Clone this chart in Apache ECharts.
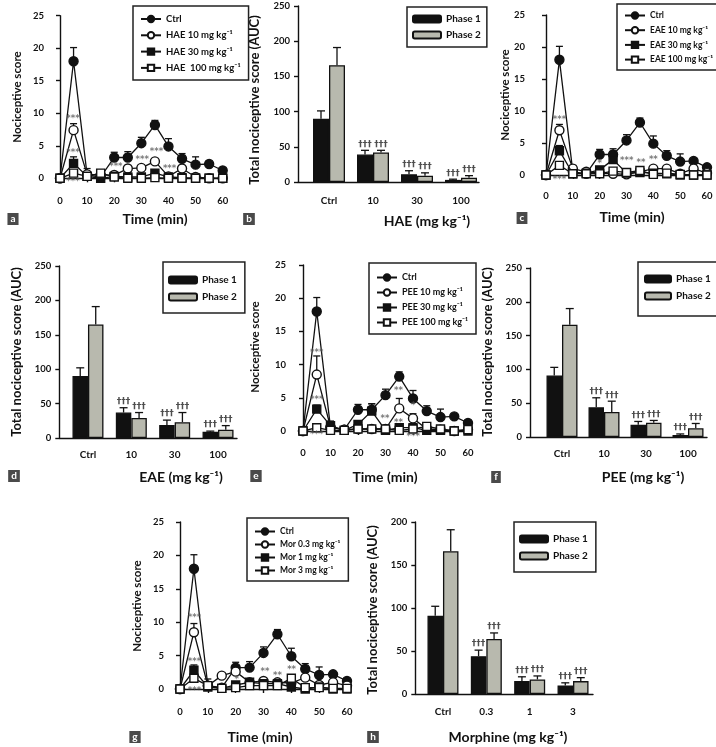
<!DOCTYPE html>
<html><head><meta charset="utf-8">
<script src="https://cdn.jsdelivr.net/npm/echarts@6/dist/echarts.min.js"></script>
<style>html,body{margin:0;padding:0;background:#fff}#c{width:716px;height:747px}</style>
</head><body><div id="c"></div>
<script>
// ---------- DATA ----------
const times = [0,5,10,15,20,25,30,35,40,45,50,55,60];
const ctrlScore = [0,18,0.5,0.2,3.2,3.2,5.4,8.2,4.9,3.0,2.1,2.2,1.2];
const ctrlErr   = [0,2.1,1.0,0,0.8,0.9,0.9,0.7,1.2,0.8,1.2,0.2,0.3];

const hae10  = [0,7.4,0.6,0.5,0.5,1.5,1.6,2.6,0.3,1.5,0.2,0,0];
const hae10Err = [0,1.0,0,0,0,0,0,0,0,0,0,0,0];
const hae30  = [0,2.3,0.3,0,0.3,0.2,0.2,0.8,0.2,0.1,0,0,0];
const hae30Err = [0,1.0,0,0,0,0,0,0,0,0,0,0,0];
const hae100 = [0,0.8,0.3,0.8,0.2,0,0,0.1,0,0,0,0,0];

const eae10  = [0,7.0,1.0,0.5,0.3,0.2,0.1,0.5,1.0,1.0,0.2,1.0,0.3];
const eae10Err = [0,0.9,0,0,0,0,0,0,0,0,0,0,0];
const eae30  = [0,3.8,0.2,0.3,0.8,2.4,0.3,0.4,0.3,0.2,0,0,0];
const eae30Err = [0,0.8,0,0,0,1.0,0,0,0,0,0,0,0];
const eae100 = [0,1.5,0.2,0.2,0.2,0.6,0.4,0.7,0.1,0.3,0.1,0,0];

const pee10  = [0,8.5,0.6,0.2,0.3,0.3,0.3,3.4,1.9,0.3,0.2,0,0.2];
const pee10Err = [0,2.8,0,0,0,0,0,1.5,0.7,0,0,0,0];
const pee30  = [0,3.3,0.8,0.1,1.0,3.0,0.1,0.5,0.5,0.1,0.1,0,0];
const pee30Err = [0,0.6,0,0,0,1.1,0,0,0,0,0,0,0];
const pee100 = [0,0.5,0.1,0.1,0.3,0.3,0.3,0.1,0.3,0.7,0.3,0,0.2];

const mor03  = [0,8.5,0.5,2.0,2.6,1.0,1.2,1.0,0.9,1.7,0.6,1.0,0.5];
const mor03Err = [0,1.3,0,0,0,0,0,0,0,0,0,0,0];
const mor1   = [0,2.8,0.3,0.1,0.6,1.0,0.8,0.8,0.3,0,0.3,0,0];
const mor1Err = [0,0.8,0,0,0,0,0,0,0,0,0,0,0];
const mor3   = [0,1.6,0.5,0.1,0.2,0.5,0.5,0.5,1.6,0.2,0.2,0.1,0.1];

// significance marks on time-course panels: [time, score, text]
const marksA = [[4.8,9.1,'***'],[4.8,3.9,'***'],[4.8,-0.5,'***'],[20.6,1.7,'***'],[30.3,2.8,'***'],[35.6,4.0,'***'],[40.4,1.4,'***']];
const marksC = [[5,8.6,'***'],[5,-0.8,'***'],[20,1.7,'*'],[30.1,2.2,'***'],[35.4,1.9,'**'],[40,2.3,'**']];
const marksE = [[5,11.8,'***'],[5,4.7,'***'],[5,-0.6,'***'],[29.8,1.8,'**'],[34.7,6.0,'**'],[40.1,3.8,'*'],[34.7,1.25,'**'],[40.1,-0.9,'***']];
const marksG = [[5.2,10.6,'***'],[5.2,4.0,'***'],[5.2,-0.2,'***'],[20.4,1.45,'*'],[30.5,2.6,'**'],[35,1.95,'**'],[40.1,2.85,'**']];

// AUC bar panels
const haeCats = ['Ctrl','10','30','100'];
const haePhase1 = [90,39,11,3],   haePhase1Err = [11,6,5,1];
const haePhase2 = [166,42,9,6],   haePhase2Err = [25,3,4,3];
const eaeCats = ['Ctrl','10','30','100'];
const eaePhase1 = [90,37,19,9],   eaePhase1Err = [12,7,7,1];
const eaePhase2 = [165,29,23,12], eaePhase2Err = [26,8,14,6];
const peeCats = ['Ctrl','10','30','100'];
const peePhase1 = [91,44,18,3],   peePhase1Err = [12,14,5,1.5];
const peePhase2 = [166,37,21,13], peePhase2Err = [24,16,3.5,7];
const morCats = ['Ctrl','0.3','1','3'];
const morPhase1 = [91,44,15,10],  morPhase1Err = [11,7,5,3];
const morPhase2 = [166,64,17,15], morPhase2Err = [25,7,4,4];
const barMarks = ['','†††','†††','†††'];

const timeTicks = {min:0,max:60,interval:10};
const scoreTicks = {min:0,max:25,interval:5};

// ---------- BUILD ----------
const FF = 'Lato, "Open Sans", sans-serif';
const INK = '#111';
const grids=[], xAxes=[], yAxes=[], series=[], legends=[], graphics=[];
const baseLines = [];

function err(gi, rows, half, cap){
  return {type:'custom', xAxisIndex:gi, yAxisIndex:gi, z:1, silent:true, clip:false,
    data: rows, encode:{x:0,y:1},
    renderItem:(p,api)=>{
      const x=api.value(0), y=api.value(1), e=api.value(2), side=api.value(3)||0;
      const a=api.coord([x,y]), b=api.coord([x,y+e]);
      const dx = side*half;
      return {type:'group',children:[
        {type:'line',shape:{x1:a[0]+dx,y1:a[1],x2:b[0]+dx,y2:b[1]},style:{stroke:INK,lineWidth:1.3}},
        {type:'line',shape:{x1:b[0]+dx-cap,y1:b[1],x2:b[0]+dx+cap,y2:b[1]},style:{stroke:INK,lineWidth:1.3}}
      ]};
    }};
}

function linePanel(gi, g, names, vals, errs, marks, lg){
  grids.push({left:g.left, top:g.top, width:g.w, height:g.h});
  xAxes.push({gridIndex:gi, type:'value', min:timeTicks.min, max:timeTicks.max, interval:timeTicks.interval, offset:g.xo,
    axisLine:{show:true,lineStyle:{color:INK,width:1.4}}, axisTick:{show:true,length:4,lineStyle:{color:INK,width:1.4}},
    splitLine:{show:false}, axisLabel:{color:INK,fontFamily:FF,fontWeight:'bold',fontSize:9.5,margin:8}});
  yAxes.push({gridIndex:gi, type:'value', min:scoreTicks.min, max:scoreTicks.max, interval:scoreTicks.interval, offset:g.yo,
    axisLine:{show:true,lineStyle:{color:INK,width:1.4}}, axisTick:{show:true,length:4,lineStyle:{color:INK,width:1.4}},
    splitLine:{show:false}, axisLabel:{color:INK,fontFamily:FF,fontWeight:'bold',fontSize:9.5,margin:8}});
  const sym = [['circle',true,9],['circle',false,9],['rect',true,8],['rect',false,8]];
  names.forEach((n,k)=>{
    series.push({type:'line', name:n, xAxisIndex:gi, yAxisIndex:gi, z:3+k,
      data: times.map((t,i)=>[t,vals[k][i]]), symbol:sym[k][0], symbolSize:sym[k][2], showSymbol:true,
      lineStyle:{color:INK,width:1.3}, itemStyle:{color:sym[k][1]?INK:'#fff', borderColor:INK, borderWidth:1.4}});
    if (errs[k]) {
      const rows = times.map((t,i)=>[t,vals[k][i],errs[k][i],0]).filter(r=>r[2]>0);
      series.push(err(gi, rows, 0, 3.5));
    }
  });
  series.push({type:'scatter', xAxisIndex:gi, yAxisIndex:gi, z:10, silent:true, clip:false, symbolSize:1,
    itemStyle:{color:'rgba(0,0,0,0)'},
    data: marks.map(m=>({value:[m[0],m[1]], label:{formatter:m[2]}})),
    label:{show:true, position:'inside', fontSize:8.5, fontWeight:'bold', fontFamily:'DejaVu Sans', color:'#555'}});
  legends.push({data:names, orient:'vertical', left:lg.left, top:lg.top, padding:lg.pad, itemWidth:20, itemHeight:8, itemGap:lg.gap,
    borderColor:'#222', borderWidth:1.5, selectedMode:false,
    textStyle:{fontFamily:FF, fontWeight:'bold', fontSize:lg.fs, color:INK}});
}

function barPanel(gi, g, cats, p1, p1e, p2, p2e, ymax, lg){
  grids.push({left:g.left, top:g.top, width:g.w, height:g.h});
  xAxes.push({gridIndex:gi, type:'category', data:cats,
    axisLine:{show:false}, axisTick:{show:false},
    axisLabel:{color:INK,fontFamily:FF,fontWeight:'bold',fontSize:10,margin:g.lm}});
  yAxes.push({gridIndex:gi, type:'value', min:0, max:ymax, interval:50, offset:g.yo,
    axisLine:{show:true,lineStyle:{color:INK,width:1.4}}, axisTick:{show:true,length:4,lineStyle:{color:INK,width:1.4}},
    splitLine:{show:false}, axisLabel:{color:INK,fontFamily:FF,fontWeight:'bold',fontSize:9.5,margin:8}});
  // baseline spanning from the y axis to the last bar
  baseLines.push({left:g.left-g.yo, top:g.top, width:g.lineEnd-(g.left-g.yo), height:g.h});
  const bw = g.bw;
  series.push({type:'bar', name:'Phase 1', xAxisIndex:gi, yAxisIndex:gi, data:p1, barWidth:bw, barGap:'0%', z:2,
    itemStyle:{color:INK, borderColor:INK, borderWidth:1.3}});
  series.push({type:'bar', name:'Phase 2', xAxisIndex:gi, yAxisIndex:gi, data:p2, barWidth:bw, barGap:'0%', z:2,
    itemStyle:{color:'#b8b9ae', borderColor:INK, borderWidth:1.3}});
  const rows = [];
  p1.forEach((v,i)=>rows.push([i,v,p1e[i],-1]));
  p2.forEach((v,i)=>rows.push([i,v,p2e[i],1]));
  series.push(err(gi, rows, bw/2, 4));
  const dm = [];
  p1.forEach((v,i)=>{ if(barMarks[i]) dm.push({value:[i,v+p1e[i]], label:{formatter:barMarks[i], offset:[-bw/2,0]}}); });
  p2.forEach((v,i)=>{ if(barMarks[i]) dm.push({value:[i,v+p2e[i]], label:{formatter:barMarks[i], offset:[bw/2,0]}}); });
  series.push({type:'scatter', xAxisIndex:gi, yAxisIndex:gi, z:10, silent:true, clip:false, symbolSize:1,
    itemStyle:{color:'rgba(0,0,0,0)'}, data:dm,
    label:{show:true, position:'top', distance:1, fontSize:9, fontWeight:'bold', fontFamily:'DejaVu Sans', color:'#222'}});
  legends.push({data:['Phase 1','Phase 2'], orient:'vertical', left:lg.left, top:lg.top, padding:lg.pad, itemWidth:lg.iw||28, itemHeight:7, itemGap:lg.gap,
    borderColor:'#222', borderWidth:1.5, selectedMode:false,
    textStyle:{fontFamily:FF, fontWeight:'bold', fontSize:10, color:INK}});
}

const sup = ' mg kg\u207B\u00B9';
// a
linePanel(0, {left:60, top:15.7, w:162.7, h:162.6, yo:8, xo:10},
  ['Ctrl','HAE 10'+sup,'HAE 30'+sup,'HAE  100'+sup], [ctrlScore,hae10,hae30,hae100], [ctrlErr,hae10Err,hae30Err,null], marksA,
  {left:133, top:6, pad:[8,8,7,7], gap:6.3, fs:9.5});
// b
barPanel(1, {left:307, top:6, w:176, h:176, yo:9, bw:16, lm:14, lineEnd:479}, haeCats, haePhase1, haePhase1Err, haePhase2, haePhase2Err, 250,
  {left:407, top:7, pad:[7,6,7,5], gap:6});
// c
linePanel(2, {left:546, top:15, w:161, h:160, yo:13, xo:8},
  ['Ctrl','EAE 10'+sup,'EAE 30'+sup,'EAE 100'+sup], [ctrlScore,eae10,eae30,eae100], [ctrlErr,eae10Err,eae30Err,null], marksC,
  {left:617, top:4, pad:[7,4,6,7], gap:5.7, fs:8.5});
// d
barPanel(3, {left:66.3, top:266, w:173.4, h:172, yo:7, bw:15.5, lm:12, lineEnd:237}, eaeCats, eaePhase1, eaePhase1Err, eaePhase2, eaePhase2Err, 250,
  {left:163, top:262, pad:[13,8,11,5], gap:7});
// e
linePanel(4, {left:303, top:265, w:165, h:166, yo:9, xo:9},
  ['Ctrl','PEE 10'+sup,'PEE 30'+sup,'PEE 100'+sup], [ctrlScore,pee10,pee30,pee100], [ctrlErr,pee10Err,pee30Err,null], marksE,
  {left:369, top:263, pad:[10,8,7,7], gap:6, fs:9});
// f
barPanel(5, {left:541, top:268, w:168, h:169, yo:11, bw:15.5, lm:12, lineEnd:707}, peeCats, peePhase1, peePhase1Err, peePhase2, peePhase2Err, 250,
  {left:638, top:262, pad:[12,6,15,6], gap:7, iw:26});
// g
linePanel(6, {left:180, top:522, w:167, h:167, yo:8, xo:10},
  ['Ctrl','Mor 0.3'+sup,'Mor 1'+sup,'Mor 3'+sup], [ctrlScore,mor03,mor1,mor3], [ctrlErr,mor03Err,mor1Err,null], marksG,
  {left:247, top:518, pad:[9,8,6,7], gap:4, fs:8.5});
// h
barPanel(7, {left:421.3, top:522, w:173.4, h:172, yo:6, bw:15.5, lm:13, lineEnd:593}, morCats, morPhase1, morPhase1Err, morPhase2, morPhase2Err, 200,
  {left:514, top:522, pad:[12,8,11,5], gap:7});

// extra grids carrying only the bar-panel baselines
baseLines.forEach(b=>{
  const gi = grids.length;
  grids.push(b);
  xAxes.push({gridIndex:gi, type:'value', min:0, max:1, axisLine:{show:true,lineStyle:{color:INK,width:1.4}},
    axisTick:{show:false}, axisLabel:{show:false}, splitLine:{show:false}});
  yAxes.push({gridIndex:gi, type:'value', min:0, max:1, show:false});
});

// axis titles & panel letters
function title(x,y,t,fs,rot){
  graphics.push({type:'text', x:x, y:y, rotation:rot?Math.PI/2:0, silent:true,
    style:{text:t, font:'bold '+fs+'px '+FF, fill:INK, align:'center', verticalAlign:'middle'}});
}
title(155,219,'Time (min)',14);   title(17,97,'Nociceptive score',11.5,true);
title(427,221,'HAE (mg kg\u207B\u00B9)',14); title(255,100,'Total nociceptive score (AUC)',13,true);
title(632,217,'Time (min)',14);   title(505,95,'Nociceptive score',11.5,true);
title(181,477,'EAE (mg kg\u207B\u00B9)',14); title(17,352,'Total nociceptive score (AUC)',13,true);
title(385,477,'Time (min)',14);   title(255,347,'Nociceptive score',11.5,true);
title(643,477,'PEE (mg kg\u207B\u00B9)',14); title(488,352,'Total nociceptive score (AUC)',13,true);
title(260,737,'Time (min)',14);   title(137,606,'Nociceptive score',11.5,true);
title(508,737,'Morphine (mg kg\u207B\u00B9)',14); title(373,610,'Total nociceptive score (AUC)',13,true);

function letter(x,y,t){
  graphics.push({type:'text', x:x, y:y, silent:true,
    style:{text:t, font:'bold 10px '+FF, fill:'#fff', backgroundColor:'#4a4a4a', padding:[1,3,1,3], align:'center', verticalAlign:'middle'}});
}
letter(13,219,'a'); letter(249,219,'b'); letter(522,218,'c'); letter(14,476,'d');
letter(256,476,'e'); letter(496,477,'f'); letter(135,737,'g'); letter(373,737,'h');

const chart = echarts.init(document.getElementById('c'), null, {renderer:'canvas'});
chart.setOption({animation:false, backgroundColor:'#fff', textStyle:{fontFamily:FF},
  grid:grids, xAxis:xAxes, yAxis:yAxes, series:series, legend:legends, graphic:graphics});
</script></body></html>
